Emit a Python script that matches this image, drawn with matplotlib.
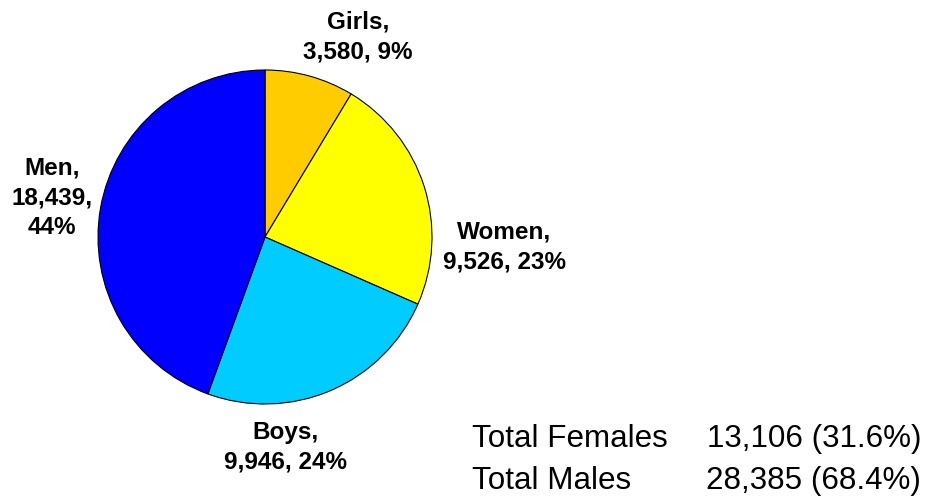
import matplotlib
matplotlib.use("Agg")
import matplotlib.pyplot as plt

plt.rcParams['font.family'] = ['Liberation Sans', 'DejaVu Sans']

# Data
grupper = ['Girls', 'Women', 'Boys', 'Men']
antall = [3580, 9526, 9946, 18439]
farger = ['#FFCC00', '#FFFF00', '#00CCFF', '#0000FF']

total = sum(antall)
kvinner = antall[0] + antall[1]
menn = antall[2] + antall[3]

# Figure 930x499 px
W, H = 930, 499
fig = plt.figure(figsize=(W / 100, H / 100), dpi=100)

# Pie axes: centre (265, 237) px, radius 167 px
cx, cy, r = 265, 237, 167
ax = fig.add_axes([(cx - r) / W, (H - cy - r) / H, 2 * r / W, 2 * r / H])
ax.pie(antall, colors=farger, startangle=90, counterclock=False,
       wedgeprops=dict(edgecolor='black', linewidth=0.8))
ax.set_xlim(-1, 1)
ax.set_ylim(-1, 1)
ax.axis('off')

# Labels (pixel positions of text centres)
etikett_pos = [(358, 37), (504, 247), (285, 447), (52, 198)]
for navn, n, (px, py) in zip(grupper, antall, etikett_pos):
    pst = round(n / total * 100)
    if navn == 'Men':
        tekst = f"{navn},\n{n:,},\n{pst}%"
    else:
        tekst = f"{navn},\n{n:,}, {pst}%"
    fig.text(px / W, 1 - py / H, tekst, ha='center', va='center',
             fontsize=17.5, fontweight='bold', linespacing=1.38)

# Totals
rader = [('Total Females', kvinner), ('Total Males', menn)]
for i, (navn, n) in enumerate(rader):
    y = 1 - (439 + 42 * i) / H
    fig.text(472 / W, y, navn, ha='left', va='center', fontsize=22.6)
    fig.text(921 / W, y, f"{n:,} ({n / total * 100:.1f}%)",
             ha='right', va='center', fontsize=22.6)

fig.savefig('out.png', dpi=100)
